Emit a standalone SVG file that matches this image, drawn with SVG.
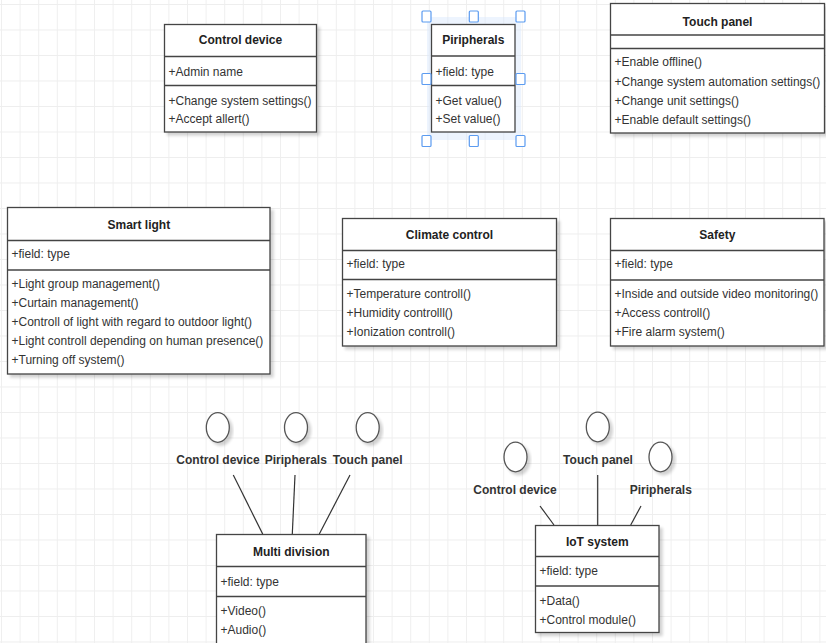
<svg xmlns="http://www.w3.org/2000/svg" width="826" height="643" viewBox="0 0 826 643">
<defs>
<pattern id="grid" x="1" y="4" width="18.6" height="25.5" patternUnits="userSpaceOnUse">
<path d="M0 0 H18.6 M0 0 V25.5" fill="none" stroke="#eeeeee" stroke-width="1.8"/>
</pattern>
<filter id="sh" x="-10%" y="-10%" width="130%" height="130%">
<feGaussianBlur in="SourceAlpha" stdDeviation="1.5"/>
<feOffset dx="3" dy="3" result="b"/>
<feComponentTransfer><feFuncA type="linear" slope="0.18"/></feComponentTransfer>
<feMerge><feMergeNode/><feMergeNode in="SourceGraphic"/></feMerge>
</filter>
</defs>
<style>
.box{fill:#ffffff;stroke:#444444;stroke-width:1.3}
.div{stroke:#444444;stroke-width:1.3}
.t{font-family:"Liberation Sans",Arial,sans-serif;font-size:12px;font-weight:bold;fill:#222222;text-anchor:middle}
.i{font-family:"Liberation Sans",Arial,sans-serif;font-size:12px;fill:#333333}
.lbl{font-family:"Liberation Sans",Arial,sans-serif;font-size:12px;font-weight:bold;fill:#333333;text-anchor:middle}
.ci{fill:#ffffff;stroke:#555555;stroke-width:1.3}
.ln{stroke:#333333;stroke-width:1.2;fill:none}
.h{fill:#ffffff;stroke:#5b9bf0;stroke-width:1.2}
</style>
<rect x="0" y="0" width="826" height="643" fill="#ffffff"/>
<rect x="0" y="0" width="826" height="643" fill="url(#grid)"/>

<g id="control-device">
<rect class="box" x="164.5" y="24.5" width="152" height="107.5" filter="url(#sh)"/>
<line class="div" x1="164.5" y1="56.5" x2="316.5" y2="56.5"/>
<line class="div" x1="164.5" y1="85.5" x2="316.5" y2="85.5"/>
<text class="t" x="240.5" y="44.3">Control device</text>
<text class="i" x="168.5" y="75.5">+Admin name</text>
<text class="i" x="168.5" y="104.5">+Change system settings()</text>
<text class="i" x="168.5" y="123">+Accept allert()</text>
</g>

<g id="piripherals">
<rect x="427" y="17" width="94" height="123" fill="#d6e6fc" opacity="0.45"/>
<rect class="box" x="431.5" y="24.5" width="83.5" height="107.5"/>
<line class="div" x1="431.5" y1="56" x2="515" y2="56"/>
<line class="div" x1="431.5" y1="85.5" x2="515" y2="85.5"/>
<text class="t" x="473.3" y="44.3">Piripherals</text>
<text class="i" x="435.5" y="75.5">+field: type</text>
<text class="i" x="435.5" y="104.5">+Get value()</text>
<text class="i" x="435.5" y="123">+Set value()</text>
<rect class="h" x="422" y="11" width="9" height="11" rx="1"/>
<rect class="h" x="469.3" y="11" width="9" height="11" rx="1"/>
<rect class="h" x="516" y="11" width="9" height="11" rx="1"/>
<rect class="h" x="422" y="73.5" width="9" height="11" rx="1"/>
<rect class="h" x="516" y="73.5" width="9" height="11" rx="1"/>
<rect class="h" x="422" y="135.5" width="9" height="11" rx="1"/>
<rect class="h" x="469.3" y="135.5" width="9" height="11" rx="1"/>
<rect class="h" x="516" y="135.5" width="9" height="11" rx="1"/>
</g>

<g id="touch-panel">
<rect class="box" x="610.5" y="3.5" width="214" height="129.5" filter="url(#sh)"/>
<line class="div" x1="610.5" y1="35" x2="824.5" y2="35"/>
<line class="div" x1="610.5" y1="48.5" x2="824.5" y2="48.5"/>
<text class="t" x="717.5" y="25.5">Touch panel</text>
<text class="i" x="614.5" y="66.3">+Enable offline()</text>
<text class="i" x="614.5" y="85.5">+Change system automation settings()</text>
<text class="i" x="614.5" y="105">+Change unit settings()</text>
<text class="i" x="614.5" y="124.3">+Enable default settings()</text>
</g>

<g id="smart-light">
<rect class="box" x="7.5" y="207.5" width="262.5" height="166.5" filter="url(#sh)"/>
<line class="div" x1="7.5" y1="240.5" x2="270" y2="240.5"/>
<line class="div" x1="7.5" y1="270" x2="270" y2="270"/>
<text class="t" x="138.8" y="229.3">Smart light</text>
<text class="i" x="11.5" y="257.5">+field: type</text>
<text class="i" x="11.5" y="287.5">+Light group management()</text>
<text class="i" x="11.5" y="306.5">+Curtain management()</text>
<text class="i" x="11.5" y="325.5">+Controll of light with regard to outdoor light()</text>
<text class="i" x="11.5" y="344.5">+Light controll depending on human presence()</text>
<text class="i" x="11.5" y="363.5">+Turning off system()</text>
</g>

<g id="climate-control">
<rect class="box" x="342.5" y="218.5" width="214" height="127.5" filter="url(#sh)"/>
<line class="div" x1="342.5" y1="250.5" x2="556.5" y2="250.5"/>
<line class="div" x1="342.5" y1="279.5" x2="556.5" y2="279.5"/>
<text class="t" x="449.5" y="239.3">Climate control</text>
<text class="i" x="346.5" y="267.5">+field: type</text>
<text class="i" x="346.5" y="298.3">+Temperature controll()</text>
<text class="i" x="346.5" y="317.3">+Humidity controlll()</text>
<text class="i" x="346.5" y="336.3">+Ionization controll()</text>
</g>

<g id="safety">
<rect class="box" x="610.5" y="218.5" width="213.5" height="127.5" filter="url(#sh)"/>
<line class="div" x1="610.5" y1="250.5" x2="824" y2="250.5"/>
<line class="div" x1="610.5" y1="280" x2="824" y2="280"/>
<text class="t" x="717.3" y="239.3">Safety</text>
<text class="i" x="614.5" y="267.5">+field: type</text>
<text class="i" x="614.5" y="298.3">+Inside and outside video monitoring()</text>
<text class="i" x="614.5" y="317.3">+Access controll()</text>
<text class="i" x="614.5" y="336.3">+Fire alarm system()</text>
</g>

<g id="md-if-control-device">
<ellipse class="ci" cx="217.8" cy="427.5" rx="11.5" ry="14.8" filter="url(#sh)"/>
<text class="lbl" x="218" y="463.5">Control device</text>
</g>
<g id="md-if-piripherals">
<ellipse class="ci" cx="296" cy="427.5" rx="11.5" ry="14.8" filter="url(#sh)"/>
<text class="lbl" x="295.8" y="463.5">Piripherals</text>
</g>
<g id="md-if-touch-panel">
<ellipse class="ci" cx="367.7" cy="427.5" rx="11.5" ry="14.8" filter="url(#sh)"/>
<text class="lbl" x="367.7" y="463.5">Touch panel</text>
</g>

<g id="multi-division">
<rect class="box" x="216.5" y="534.5" width="149.5" height="115" filter="url(#sh)"/>
<line class="div" x1="216.5" y1="566.5" x2="366" y2="566.5"/>
<line class="div" x1="216.5" y1="596.5" x2="366" y2="596.5"/>
<text class="t" x="291.3" y="555.8">Multi division</text>
<text class="i" x="220.5" y="585.8">+field: type</text>
<text class="i" x="220.5" y="614.8">+Video()</text>
<text class="i" x="220.5" y="633.5">+Audio()</text>
</g>

<g id="iot-if-control-device">
<ellipse class="ci" cx="515.5" cy="457" rx="11.5" ry="14.8" filter="url(#sh)"/>
<text class="lbl" x="515" y="493.5">Control device</text>
</g>
<g id="iot-if-touch-panel">
<ellipse class="ci" cx="597.8" cy="427" rx="11.5" ry="14.8" filter="url(#sh)"/>
<text class="lbl" x="598" y="463.5">Touch panel</text>
</g>
<g id="iot-if-piripherals">
<ellipse class="ci" cx="660.5" cy="457" rx="11.5" ry="14.8" filter="url(#sh)"/>
<text class="lbl" x="660.8" y="493.5">Piripherals</text>
</g>

<g id="iot-system">
<rect class="box" x="535.5" y="525.5" width="123.5" height="107" filter="url(#sh)"/>
<line class="div" x1="535.5" y1="556.5" x2="659" y2="556.5"/>
<line class="div" x1="535.5" y1="586" x2="659" y2="586"/>
<text class="t" x="597.3" y="546">IoT system</text>
<text class="i" x="539.5" y="575">+field: type</text>
<text class="i" x="539.5" y="605.3">+Data()</text>
<text class="i" x="539.5" y="624.3">+Control module()</text>
</g>

<g id="connectors">
<line class="ln" x1="233.3" y1="475" x2="262.7" y2="534"/>
<line class="ln" x1="295" y1="475" x2="292.3" y2="534"/>
<line class="ln" x1="350" y1="475" x2="319.3" y2="534"/>
<line class="ln" x1="540" y1="506" x2="554" y2="525"/>
<line class="ln" x1="597.7" y1="475" x2="597.7" y2="525"/>
<line class="ln" x1="641" y1="506" x2="630.7" y2="525"/>
</g>
</svg>
